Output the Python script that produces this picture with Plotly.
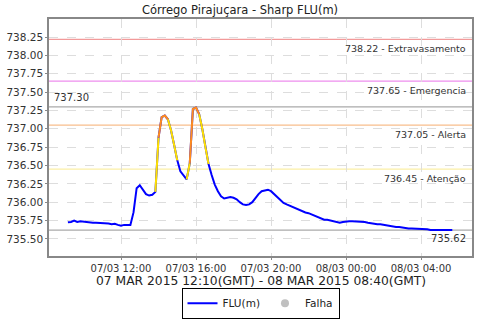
import plotly.graph_objects as go
import pandas as pd

# ---- data (local time, 10-min readings) ----
start_time = "2015-03-07 09:10"
flu_values = [
    735.725, 735.73, 735.75, 735.73, 735.74, 735.735, 735.72, 735.72, 735.72, 735.72,
    735.72, 735.72, 735.71, 735.71, 735.70, 735.705, 735.69, 735.68, 735.69, 735.69,
    735.69, 735.86, 736.19, 736.23, 736.17, 736.11, 736.09, 736.10, 736.14, 736.88,
    737.16, 737.18, 737.13, 736.98, 736.78, 736.57, 736.42, 736.36, 736.31, 736.53,
    737.27, 737.29, 737.20, 737.00, 736.75, 736.52, 736.37, 736.24, 736.15, 736.08,
    736.05, 736.06, 736.07, 736.06, 736.04, 736.00, 735.97, 735.96, 735.97, 736.00,
    736.06, 736.11, 736.15, 736.16, 736.17, 736.15, 736.11, 736.06, 736.02, 735.99,
    735.97, 735.95, 735.93, 735.91, 735.89, 735.87, 735.86, 735.85, 735.83, 735.81,
    735.79, 735.77, 735.76, 735.76, 735.75, 735.75, 735.73, 735.72, 735.73, 735.74,
    735.74, 735.74, 735.74, 735.74, 735.74, 735.73, 735.72, 735.71, 735.71, 735.70,
    735.70, 735.69, 735.68, 735.675, 735.67, 735.66, 735.66, 735.65, 735.65, 735.64,
    735.64, 735.64, 735.635, 735.635, 735.63, 735.63, 735.62, 735.62, 735.62, 735.62,
    735.62, 735.62, 735.62, 735.62,
]
# status of the segment that ends at each reading: 0 normal, 1 atenção, 2 alerta
segment_status = [0] * len(flu_values)
for i in [29, 33, 34, 35, 39, 43, 44, 45]:
    segment_status[i] = 1
for i in [30, 31, 32, 40, 41, 42]:
    segment_status[i] = 2

threshold_values = [738.22, 737.65, 737.05, 736.45]
threshold_labels = ["738.22 - Extravasamento", "737.65 - Emergencia",
                    "737.05 - Alerta", "736.45 - Atenção"]
threshold_colors = ["#F29A9A", "#EE8EEE", "#F8BE8C", "#FBEFA6"]
max_value = 737.30
min_value = 735.62
period_label = "07 MAR 2015 12:10(GMT) - 08 MAR 2015 08:40(GMT)"

times = pd.date_range(start_time, periods=len(flu_values), freq="10min")

font = "DejaVu Sans"
fig = go.Figure()

fig.add_trace(go.Scatter(x=times, y=flu_values, mode="lines", name="FLU(m)",
                         line=dict(color="#0000FF", width=2)))

status_colors = {1: "#FFE100", 2: "#FF8C1E"}
i = 1
while i < len(flu_values):
    s = segment_status[i]
    if s == 0:
        i += 1
        continue
    j = i
    while j + 1 < len(flu_values) and segment_status[j + 1] == s:
        j += 1
    fig.add_trace(go.Scatter(x=times[i - 1:j + 1], y=flu_values[i - 1:j + 1],
                             mode="lines", showlegend=False, hoverinfo="skip",
                             line=dict(color=status_colors[s], width=2)))
    i = j + 1

fig.add_trace(go.Scatter(x=[None], y=[None], mode="markers", name="Falha",
                         marker=dict(color="#C0C0C0", size=8)))

shapes = []
annotations = []
for v, lab, c in zip(threshold_values, threshold_labels, threshold_colors):
    shapes.append(dict(type="line", xref="paper", x0=0, x1=1, yref="y", y0=v, y1=v,
                       line=dict(color=c, width=1.2), layer="below"))
    annotations.append(dict(xref="paper", x=0.99, yref="y", y=v, text=lab,
                            showarrow=False, xanchor="right", yanchor="top", yshift=-2,
                            font=dict(family=font, size=9.5, color="#333333")))
for v in [max_value, min_value]:
    shapes.append(dict(type="line", xref="paper", x0=0, x1=1, yref="y", y0=v, y1=v,
                       line=dict(color="#AAAAAA", width=1.2), layer="below"))
annotations.append(dict(xref="paper", x=0.008, yref="y", y=max_value, text="737.30",
                        showarrow=False, xanchor="left", yanchor="bottom", yshift=2,
                        font=dict(family=font, size=10, color="#333333")))
annotations.append(dict(xref="paper", x=0.99, yref="y", y=min_value, text="735.62",
                        showarrow=False, xanchor="right", yanchor="top", yshift=-1,
                        font=dict(family=font, size=10, color="#333333")))
annotations.append(dict(xref="paper", x=0.5, yref="paper", y=-0.105, text=period_label,
                        showarrow=False, xanchor="center", yanchor="middle",
                        font=dict(family=font, size=12.3, color="#222222")))

fig.update_layout(
    width=480, height=320,
    margin=dict(l=49, r=8, t=19, b=64, autoexpand=False),
    paper_bgcolor="white", plot_bgcolor="white",
    title=dict(text="Córrego Pirajuçara - Sharp FLU(m)", x=0.5, xanchor="center",
               y=0.968, yanchor="middle", yref="container",
               font=dict(family=font, size=11.5, color="#222222")),
    font=dict(family=font, color="#333333"),
    shapes=shapes, annotations=annotations,
    showlegend=True,
    legend=dict(orientation="h", x=0.5, xanchor="center", xref="paper",
                y=0.004, yanchor="bottom", yref="container",
                bordercolor="#000000", borderwidth=1, bgcolor="white",
                font=dict(family=font, size=10.5, color="#222222"),
                itemwidth=30, tracegroupgap=0),
)
fig.update_xaxes(
    range=["2015-03-07 08:09:36", "2015-03-08 06:43:00"],
    tick0="2015-03-07 00:00", dtick=4 * 3600 * 1000, tickformat="%d/%m %H:%M",
    showgrid=True, gridcolor="#DDDDDD", griddash="dash", gridwidth=1,
    showline=True, linecolor="#888888", linewidth=1.5, mirror=True,
    ticks="outside", ticklen=2, tickcolor="#888888",
    tickfont=dict(family=font, size=10, color="#333333"),
    zeroline=False, automargin=False,
)
fig.update_yaxes(
    range=[735.266, 738.497], tick0=735.5, dtick=0.25, tickformat=".2f",
    showgrid=True, gridcolor="#DDDDDD", griddash="dash", gridwidth=1,
    showline=True, linecolor="#888888", linewidth=1.5, mirror=True,
    ticks="outside", ticklen=2, tickcolor="#888888",
    tickfont=dict(family=font, size=10.5, color="#333333"),
    zeroline=False, automargin=False,
)

fig.write_html("out.html")
